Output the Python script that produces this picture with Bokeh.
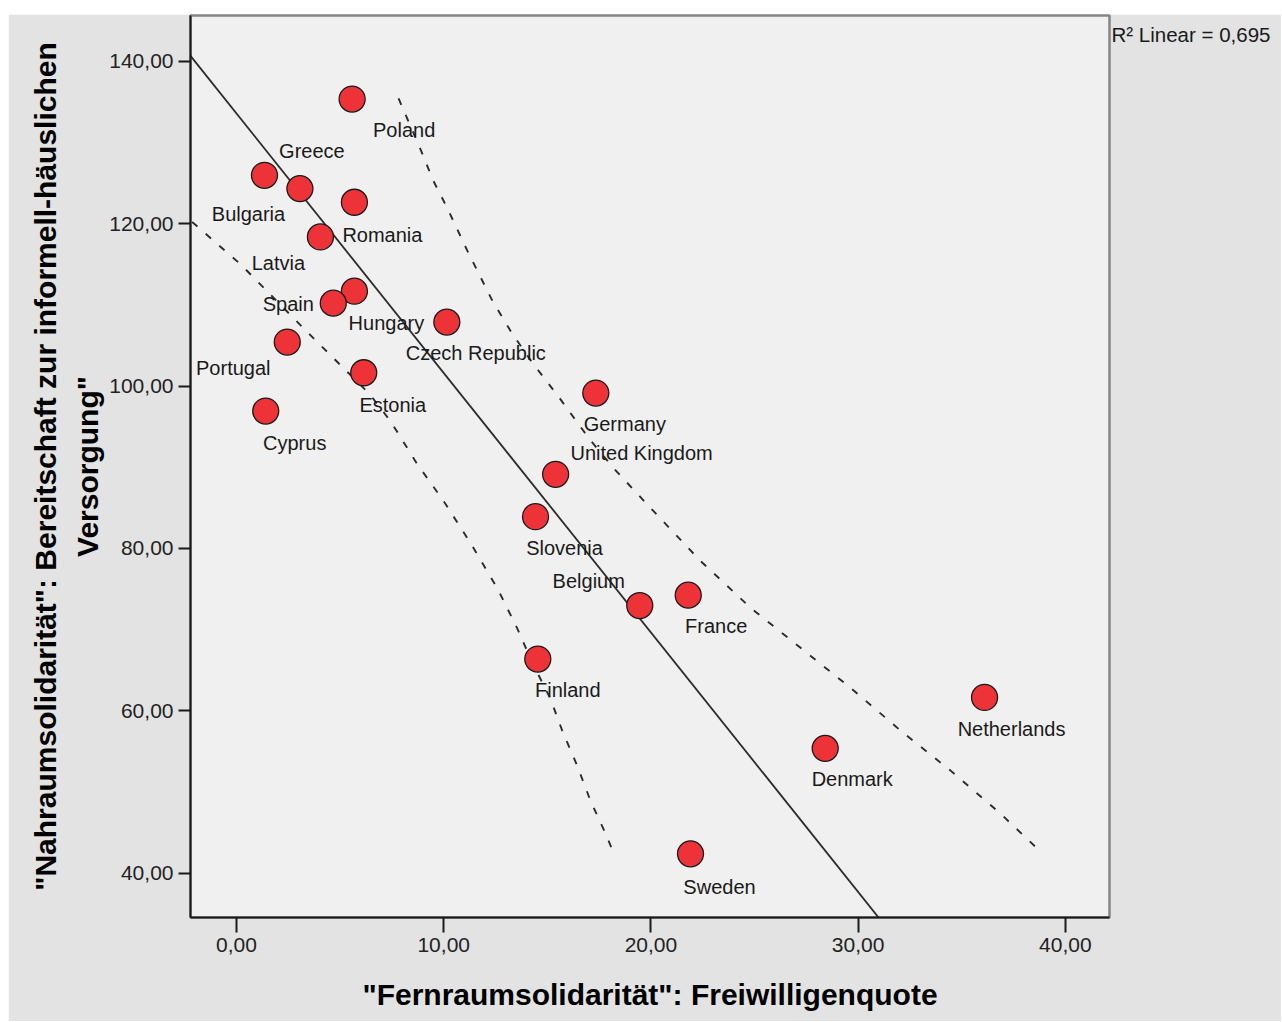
import numpy as np
from bokeh.plotting import figure
from bokeh.models import FixedTicker, Spacer, ColumnDataSource, LinearAxis
from bokeh.layouts import column, row
from bokeh.core.properties import value
from bokeh.embed import file_html
from bokeh.resources import INLINE

# ---------------- data ----------------
countries = ["Poland", "Greece", "Bulgaria", "Romania", "Latvia", "Hungary", "Spain",
             "Czech Republic", "Portugal", "Estonia", "Cyprus", "Germany", "United Kingdom",
             "Slovenia", "Belgium", "France", "Finland", "Netherlands", "Denmark", "Sweden"]
freiwilligenquote = [5.58, 3.06, 1.35, 5.69, 4.05, 5.69, 4.67, 10.15, 2.45, 6.14, 1.41,
                     17.34, 15.40, 14.43, 19.46, 21.80, 14.54, 36.10, 28.41, 21.91]
bereitschaft = [135.36, 124.33, 125.97, 122.65, 118.38, 111.69, 110.22, 107.88, 105.42,
                101.64, 96.92, 99.14, 89.13, 83.91, 72.96, 74.24, 66.36, 61.64, 55.36, 42.36]

# dashed curves
upper_x = [7.82, 8.88, 9.51, 10.17, 11.15, 12.36, 13.32, 14.29, 15.59, 17.03, 18.19,
           19.98, 22.39, 24.81, 27.22, 29.63, 32.05, 34.46, 36.87, 38.90]
upper_y = [135.45, 129.17, 125.23, 121.94, 116.62, 110.46, 106.40, 102.83, 98.52, 93.48,
           89.91, 84.98, 78.46, 72.68, 67.75, 62.83, 57.54, 52.62, 47.32, 42.40]
lower_x = [-2.14, 0.19, 1.48, 3.23, 5.16, 6.43, 7.43, 8.72, 9.99, 11.29, 12.60, 13.56,
           14.27, 15.15, 15.72, 16.44, 17.08, 17.81, 18.21]
lower_y = [120.22, 115.02, 111.69, 107.14, 102.22, 99.00, 95.69, 90.40, 85.85, 80.68,
           75.02, 70.09, 65.94, 61.48, 57.54, 53.23, 48.92, 44.86, 42.40]

x_ticks = [0, 10, 20, 30, 40]
x_tick_labels = ["0,00", "10,00", "20,00", "30,00", "40,00"]
y_ticks = [40, 60, 80, 100, 120, 140]
y_tick_labels = ["40,00", "60,00", "80,00", "100,00", "120,00", "140,00"]

r2_text = "R\u00b2 Linear = 0,695"
x_title = '"Fernraumsolidarit\u00e4t": Freiwilligenquote'
y_title = '"Nahraumsolidarit\u00e4t": Bereitschaft zur informell-h\u00e4uslichen\nVersorgung"'

# ---------------- layout / style ----------------
# label offsets in screen pixels (dx, dy) for each country label
label_dx = [52, 12, -16, 28, -42, 32, -45, 29, -54, 29, 29, 29, 86, 29, -51, 28, 30, 27, 27, 29]
label_dy = [31, -38, 39, 33, 26, 32, 1, 31, 26, 32, 32, 31, -21, 31, -25, 31, 31, 32, 31, 33]

X0, X1 = -2.22, 42.13
Y0, Y1 = 34.52, 145.66
R2_Y = 143.32

FONT = "Liberation Sans"
INK = "#1a1a1a"

p = figure(width=1273, height=1007, x_range=(X0, X1), y_range=(Y0, Y1),
           output_backend="svg", toolbar_location=None,
           min_border_left=182, min_border_right=172, min_border_top=1, min_border_bottom=104,
           background_fill_color="#f0f0f0", border_fill_color="#e3e3e3")
p.grid.visible = False
p.outline_line_color = "#858585"
p.outline_line_width = 2.5

for ax in (p.xaxis, p.yaxis):
    ax.axis_line_color = INK
    ax.axis_line_width = 2
    ax.major_tick_line_color = INK
    ax.major_tick_line_width = 2
    ax.major_tick_in = 0
    ax.minor_tick_line_color = None
    ax.major_label_text_font = FONT
    ax.major_label_text_font_size = "21px"
    ax.major_label_text_color = "#222222"
    ax.axis_label_text_font = FONT
    ax.axis_label_text_font_style = "bold"
    ax.axis_label_text_font_size = "30px"
    ax.axis_label_text_color = "#000000"

p.xaxis.ticker = FixedTicker(ticks=x_ticks)
p.xaxis.major_label_overrides = dict(zip(x_ticks, x_tick_labels))
p.xaxis.major_tick_out = 15
p.xaxis.major_label_standoff = 5
p.xaxis.axis_label = x_title
p.xaxis.axis_label_standoff = 23

p.yaxis.ticker = FixedTicker(ticks=y_ticks)
p.yaxis.major_label_overrides = dict(zip(y_ticks, y_tick_labels))
p.yaxis.major_tick_out = 12
p.yaxis.major_label_standoff = 5
p.yaxis.axis_label = y_title
p.yaxis.axis_label_standoff = 2
p.yaxis.axis_label_text_line_height = 1.27

# R² annotation as a label-only axis on the right
r2_axis = LinearAxis(ticker=FixedTicker(ticks=[R2_Y]),
                     major_label_overrides={R2_Y: r2_text},
                     axis_line_color=None, major_tick_line_color=None,
                     minor_tick_line_color=None, major_tick_in=0, major_tick_out=0,
                     major_label_standoff=2, major_label_text_font=FONT,
                     major_label_text_font_size="20.5px", major_label_text_color=INK)
p.add_layout(r2_axis, "right")

# fitted line (as drawn in the reference: regression of x on y)
b, a = np.polyfit(bereitschaft, freiwilligenquote, 1)
fx = [X0, X1]
fy = [(X0 - a) / b, (X1 - a) / b]
p.line(fx, fy, line_color="#2b2b2b", line_width=1.8)

# dashed curves
p.line(upper_x, upper_y, line_color="#2b2b2b", line_width=1.9, line_dash="7 11")
p.line(lower_x, lower_y, line_color="#2b2b2b", line_width=1.9, line_dash="7 11")

src = ColumnDataSource(dict(x=freiwilligenquote, y=bereitschaft, name=countries,
                            dx=label_dx, dy=label_dy))
p.scatter("x", "y", source=src, size=26, fill_color="#ee3338",
          line_color=INK, line_width=1.3)
p.text("x", "y", text="name", source=src, x_offset="dx", y_offset="dy",
       text_font=value(FONT), text_font_size="20px", text_color=INK,
       text_align="center", text_baseline="middle")

layout = row(Spacer(width=8, height=1007),
             column(Spacer(width=1273, height=14), p))
open("out.html", "w").write(file_html(layout, INLINE))
